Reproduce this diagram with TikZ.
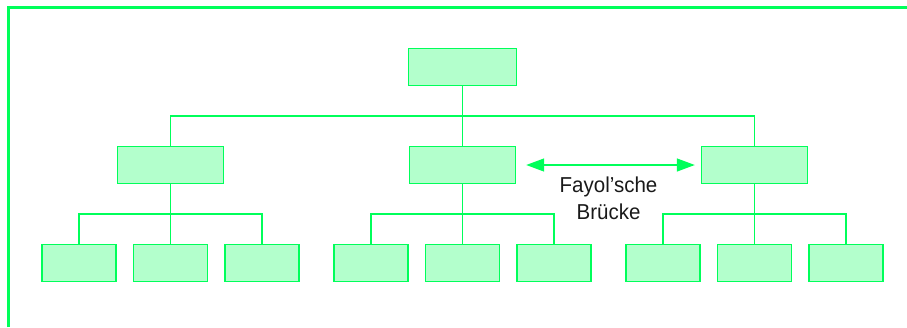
\documentclass[tikz,border=0pt]{standalone}
\usepackage{fontspec}
\setmainfont{Liberation Sans}
\newfontfamily\labelfont[FakeStretch=0.95]{Liberation Sans}
\usetikzlibrary{positioning, arrows.meta}
\definecolor{orgline}{RGB}{0,255,90}
\definecolor{orgfill}{RGB}{179,255,204}
\tikzset{
    unit/.style={draw=orgline, fill=orgfill, line width=1.4pt, inner sep=0pt, minimum width=#1, minimum height=36.5pt},
    link/.style={draw=orgline, line width=1.4pt},
}

\begin{document}
\begin{tikzpicture}[x=1pt,y=-1pt]
                \useasboundingbox (0,0) rectangle (907,327);
                \draw[orgline, line width=3pt] (8.5,327)--(8.5,7.5)--(907,7.5);
                \node[unit=107.5pt] (top) at (462.5,67) {};
                \coordinate (bar) at (0,116);
                \foreach \g/\x in {a/170.5, b/462.5, c/754.5}{
                    \node[unit=106pt] (mid\g) at (\x,165) {};
                    \node[unit=74pt] (\g1) at (\x-91.5,263) {};
                    \node[unit=74pt] (\g2) at (\x,263) {};
                    \node[unit=74pt] (\g3) at (\x+91.5,263) {};
                    \coordinate (sub\g) at (\x,214);
                    \draw[link] (mid\g.south)--(sub\g);
                    \draw[link] (\g1.north)|-(sub\g)-|(\g3.north);
                    \draw[link] (\g2.north)--(sub\g);
                }
                \draw[link] (top.south)--(top.south |- bar);
                \draw[link] (mida.north)|-(bar -| top.south)-|(midc.north);
                \draw[link] (midb.north)--(midb.north |- bar);
                % Fayol'sche Bruecke
                \draw[link, {Triangle[length=18pt,width=13pt]}-{Triangle[length=18pt,width=13pt]}, fill=orgline, shorten <=10pt, shorten >=6pt]
                    (midb.east)--node[below=11pt, inner sep=0pt, align=center, font=\labelfont\fontsize{21.6}{27.5}\selectfont, text=black!90] (fb) {Fayol’sche\\Brücke} (midc.west);
            \end{tikzpicture}
\end{document}
